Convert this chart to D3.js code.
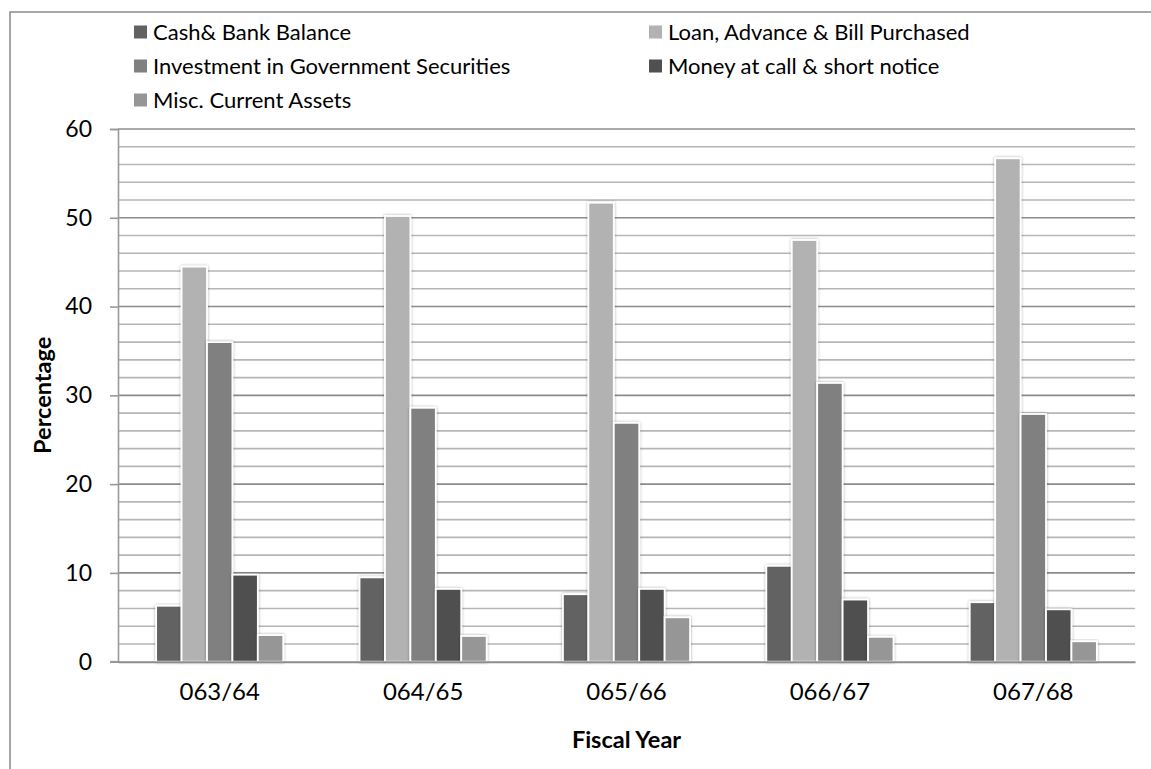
<!DOCTYPE html>
<html>
<head>
<meta charset="utf-8">
<script src="https://cdn.jsdelivr.net/npm/d3@7"></script>
<style>
  html, body { margin: 0; padding: 0; background: #fff; }
  svg { display: block; }
  text { font-family: Lato, "Open Sans", sans-serif; fill: #000; }
</style>
</head>
<body>
<svg id="chart" width="1151" height="769"></svg>
<script>
const categories = ["063/64", "064/65", "065/66", "066/67", "067/68"];
const seriesNames = [
  "Cash& Bank Balance",
  "Loan, Advance & Bill Purchased",
  "Investment in Government Securities",
  "Money at call & short notice",
  "Misc. Current Assets"
];
const cashBank   = [6.3, 9.5, 7.6, 10.8, 6.7];
const loanAdv    = [44.5, 50.2, 51.7, 47.5, 56.7];
const investGov  = [36.0, 28.6, 26.9, 31.4, 27.9];
const moneyCall  = [9.8, 8.2, 8.2, 7.0, 5.9];
const miscAssets = [3.0, 2.9, 5.0, 2.8, 2.3];
const yTicks = [0, 10, 20, 30, 40, 50, 60];
const seriesColors = ["#626262", "#b2b2b2", "#808080", "#505050", "#969696"];

const seriesValues = [cashBank, loanAdv, investGov, moneyCall, miscAssets];

const svg = d3.select("#chart");
const W = 1151, H = 769;
const plot = { left: 118, right: 1135, top: 129, bottom: 661.7 };

// soft glow/shadow filter for bars
const defs = svg.append("defs");
const f = defs.append("filter").attr("id", "glow").attr("x", "-30%").attr("y", "-10%").attr("width", "160%").attr("height", "120%");
f.append("feGaussianBlur").attr("in", "SourceAlpha").attr("stdDeviation", 1.6).attr("result", "b");
f.append("feComponentTransfer").attr("in", "b").attr("result", "b2")
  .append("feFuncA").attr("type", "linear").attr("slope", 0.35);
const fm = f.append("feMerge");
fm.append("feMergeNode").attr("in", "b2");
fm.append("feMergeNode").attr("in", "SourceGraphic");

// outer chart border
svg.append("rect")
  .attr("x", 10).attr("y", 12)
  .attr("width", W + 20).attr("height", H + 20)
  .attr("fill", "none").attr("stroke", "#8a8a8a").attr("stroke-width", 1.5);

const x = d3.scaleBand().domain(categories).range([plot.left, plot.right]).padding(0);
const xs = d3.scaleBand().domain(d3.range(seriesNames.length)).range([0, x.bandwidth()])
  .paddingInner(0).paddingOuter(1.5);
const y = d3.scaleLinear().domain([0, 60]).range([plot.bottom, plot.top]);

// gridlines (minor every 2, major every 10)
const minorVals = d3.range(2, 60, 2).filter(v => v % 10 !== 0);
svg.append("g").selectAll("line").data(minorVals).join("line")
  .attr("x1", plot.left).attr("x2", plot.right)
  .attr("y1", d => y(d)).attr("y2", d => y(d))
  .attr("stroke", "#b6b6b6").attr("stroke-width", 1.6);
svg.append("g").selectAll("line").data(yTicks.filter(v => v > 0)).join("line")
  .attr("x1", plot.left).attr("x2", plot.right)
  .attr("y1", d => y(d)).attr("y2", d => y(d))
  .attr("stroke", "#8c8c8c").attr("stroke-width", 1.6);

// y axis
const yAxis = d3.axisLeft(y).tickValues(yTicks).tickSize(8).tickPadding(18).tickFormat(d3.format("d"));
const gy = svg.append("g").attr("transform", `translate(${plot.left},0)`).call(yAxis);
gy.select(".domain").attr("stroke", "#999").attr("stroke-width", 1.6);
gy.selectAll(".tick line").attr("stroke", "#999").attr("stroke-width", 1.6);
gy.selectAll(".tick text").attr("font-size", 23).attr("font-family", "Lato, sans-serif").attr("fill", "#000");

// bars
const groups = svg.append("g").selectAll("g").data(categories).join("g")
  .attr("transform", d => `translate(${x(d)},0)`);
groups.selectAll("rect")
  .data((c, ci) => seriesValues.map((vals, si) => ({ si, v: vals[ci] })))
  .join("rect")
  .attr("x", d => xs(d.si))
  .attr("width", xs.bandwidth())
  .attr("y", d => y(d.v))
  .attr("height", d => y(0) - y(d.v))
  .attr("fill", d => seriesColors[d.si])
  .attr("stroke", "#fff").attr("stroke-width", 1.8)
  .attr("filter", "url(#glow)");

// x axis baseline
const xAxis = d3.axisBottom(x).tickSize(0).tickPadding(21);
const gx = svg.append("g").attr("transform", `translate(0,${plot.bottom})`).call(xAxis);
gx.select(".domain").attr("stroke", "#8c8c8c").attr("stroke-width", 2);
gx.selectAll(".tick text").attr("font-size", 24).attr("font-family", "Lato, sans-serif").attr("fill", "#000");
svg.append("line").attr("x1", plot.left - 8).attr("x2", plot.left)
  .attr("y1", plot.bottom).attr("y2", plot.bottom)
  .attr("stroke", "#999").attr("stroke-width", 1.6);

// axis titles
svg.append("text").attr("x", (plot.left + plot.right) / 2).attr("y", 748)
  .attr("text-anchor", "middle").attr("font-size", 23.5).attr("font-weight", "bold")
  .text("Fiscal Year");
svg.append("text").attr("transform", `translate(51,${(plot.top + plot.bottom) / 2}) rotate(-90)`)
  .attr("text-anchor", "middle").attr("font-size", 23.5).attr("font-weight", "bold")
  .text("Percentage");

// legend
const legendPos = [[134, 32], [649, 32], [134, 66], [649, 66], [134, 100]];
const lg = svg.append("g").selectAll("g").data(seriesNames).join("g")
  .attr("transform", (d, i) => `translate(${legendPos[i][0]},${legendPos[i][1]})`);
lg.append("rect").attr("x", 0).attr("y", -6.5).attr("width", 13).attr("height", 13)
  .attr("fill", (d, i) => seriesColors[i]);
lg.append("text").attr("x", 19).attr("y", 0).attr("dy", "0.35em")
  .attr("font-size", 22).text(d => d);
</script>
</body>
</html>
